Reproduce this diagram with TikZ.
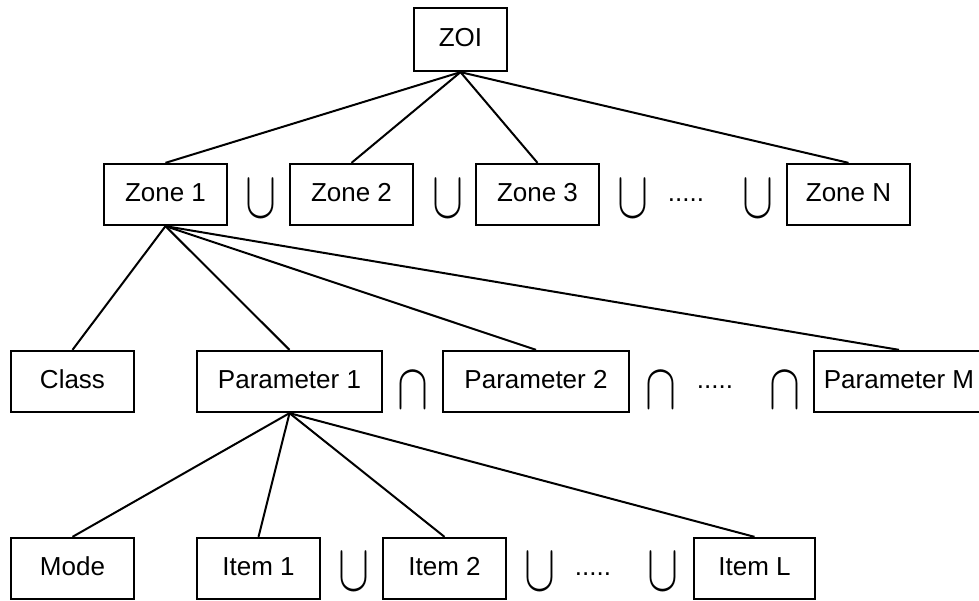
\documentclass[tikz,border=0pt]{standalone}
\usepackage{fontspec}
\setmainfont{Liberation Sans}
\usepackage{graphicx}
\begin{document}
\begin{tikzpicture}[x=1pt,y=-1pt,
  box/.style={draw, line width=2.3pt, inner sep=0pt, minimum height=61pt,
    text height=19pt, text depth=5pt, font=\fontsize{26}{29}\selectfont},
  link/.style={line width=2pt},
  dotsnode/.style={inner sep=0pt, text height=19pt, text depth=5pt,
    font=\fontsize{26}{29}\selectfont},
  setop/.style={inner sep=0pt}]
\useasboundingbox (0,0) rectangle (979,601);
\newcommand{\unionsym}{\resizebox{31pt}{37pt}{$\cup$}}
\newcommand{\intersym}{\resizebox{31pt}{36pt}{$\cap$}}

% root
\node[box, minimum width=93pt, minimum height=63pt] (zoi) at (460.5,39.5) {ZOI};

% zones
\node[box, minimum width=123pt] (z1) at (165.5,194.5) {Zone 1};
\node[box, minimum width=123pt] (z2) at (351.5,194.5) {Zone 2};
\node[box, minimum width=123pt] (z3) at (537.5,194.5) {Zone 3};
\node[box, minimum width=123pt] (zn) at (848.5,194.5) {Zone N};
\node[setop] (u1) at (261,199) {\unionsym};
\node[setop] (u2) at (448,199) {\unionsym};
\node[setop] (u3) at (633,199) {\unionsym};
\node[dotsnode] (d1) at (686,194.5) {.....};
\node[setop] (u4) at (758,199) {\unionsym};

% classes and parameters
\node[box, minimum width=123pt] (cls) at (72.5,381.5) {Class};
\node[box, minimum width=185pt] (p1) at (289.5,381.5) {Parameter 1};
\node[box, minimum width=186pt] (p2) at (536,381.5) {Parameter 2};
\node[box, minimum width=170pt] (pm) at (899,381.5) {Parameter M};
\node[setop] (n1) at (413,390) {\intersym};
\node[setop] (n2) at (661,390) {\intersym};
\node[dotsnode] (d2) at (715,381.5) {.....};
\node[setop] (n3) at (785,390) {\intersym};

% modes and items
\node[box, minimum width=123pt] (mode) at (72.5,568.5) {Mode};
\node[box, minimum width=123pt] (i1) at (258.5,568.5) {Item 1};
\node[box, minimum width=123pt] (i2) at (444.5,568.5) {Item 2};
\node[box, minimum width=121pt] (il) at (754.5,568.5) {Item L};
\node[setop] (v1) at (354,572) {\unionsym};
\node[setop] (v2) at (540,572) {\unionsym};
\node[dotsnode] (d3) at (593,568.5) {.....};
\node[setop] (v3) at (663,572) {\unionsym};

% tree links
\foreach \c in {z1,z2,z3,zn} \draw[link] (zoi.south) -- (\c.north);
\foreach \c in {cls,p1,p2,pm} \draw[link] (z1.south) -- (\c.north);
\foreach \c in {mode,i1,i2,il} \draw[link] (p1.south) -- (\c.north);
\end{tikzpicture}
\end{document}
